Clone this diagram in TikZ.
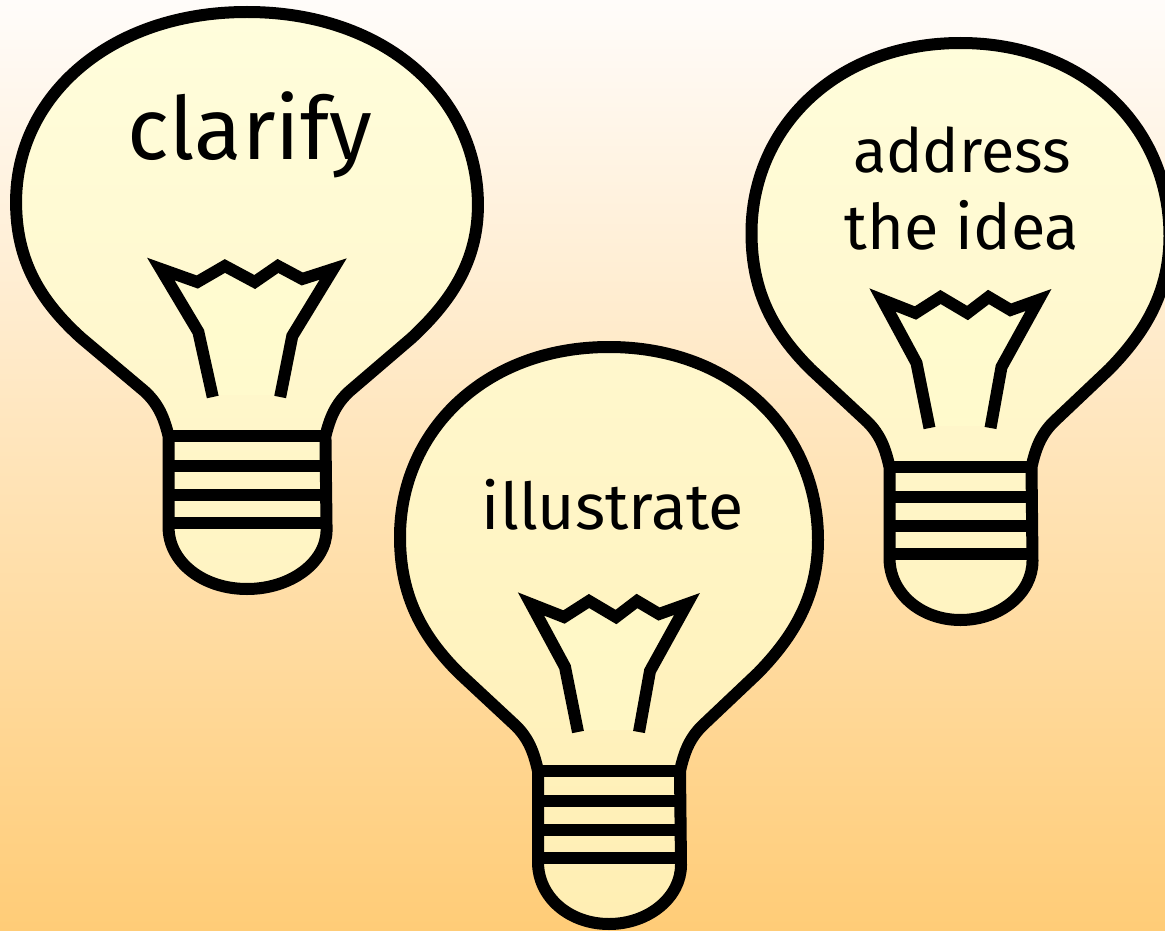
\documentclass[tikz,border=0pt]{standalone}
\usepackage{fontspec}
\setmainfont{Fira Sans}
\definecolor{bgtop}{HTML}{FFFCFA}
\definecolor{bgmid}{HTML}{FEE6CB}
\definecolor{bgbot}{HTML}{FFCC77}
\definecolor{glass}{HTML}{FFFFD0}
\tikzset{
  bulbline/.style={draw=black,line width=12pt,miter limit=30,line join=miter},
  bulbfill/.style={fill=glass,fill opacity=.68,draw=none},
  coil/.style={draw=black,line width=12pt,line cap=butt},
  bulbtext/.style={inner sep=0pt,anchor=base,text=black},
  pics/bulb/.style={code={
    \def\bulbpath{(-71,424) .. controls (-75,406) and (-80,392) .. (-93,379) -- (-150,326)
      .. controls (-186,290) and (-209,250) .. (-209,190)
      .. controls (-209,85) and (-125,0) .. (0,0)
      .. controls (125,0) and (209,85) .. (209,193)
      .. controls (209,250) and (184,290) .. (149,326)
      -- (93,379) .. controls (80,392) and (75,406) .. (71,424)
      -- (72,518) .. controls (72,550) and (40,577) .. (0,577)
      .. controls (-40,577) and (-71,550) .. (-71,515) -- cycle}
    \path[bulbfill] \bulbpath;
    \path[bulbfill,fill opacity=.45] (-31,383) -- (-44,320) -- (-78,257) -- (-45,270) -- (-20,254) -- (7,270) -- (28,254) -- (50,267) -- (78,257) -- (41,324) -- (30,383) -- cycle;
    \draw[bulbline] \bulbpath;
    \draw[bulbline] (-31,385) -- (-44,320) -- (-78,257) -- (-45,270) -- (-20,254) -- (7,270) -- (28,254) -- (50,267) -- (78,257) -- (41,324) -- (30,385);
    \foreach \yy in {424,454,483,511} {\draw[coil] (-71,\yy) -- (71,\yy);}
  }}
}
\begin{document}
\begin{tikzpicture}[x=1pt,y=-1pt]
\useasboundingbox (0,0) rectangle (1165,931);
\clip (0,0) rectangle (1165,931);
\shade[top color=bgtop,middle color=bgmid,bottom color=bgbot] (0,0) rectangle (1165,931);
\pic[xscale=1.105] at (247,12) {bulb};
\pic at (609,347) {bulb};
\pic at (960.5,43) {bulb};
\node[bulbtext,font=\fontsize{87}{87}\selectfont] (clarify) at (250,160) {clarify};
\node[bulbtext,font=\fontsize{64.5}{64.5}\selectfont] (illustrate) at (613,529) {illustrate};
\node[bulbtext,font=\fontsize{61}{61}\selectfont] (address) at (962,172) {address};
\node[bulbtext,font=\fontsize{63}{63}\selectfont] (theidea) at (962,249) {the idea};
\end{tikzpicture}
\end{document}
